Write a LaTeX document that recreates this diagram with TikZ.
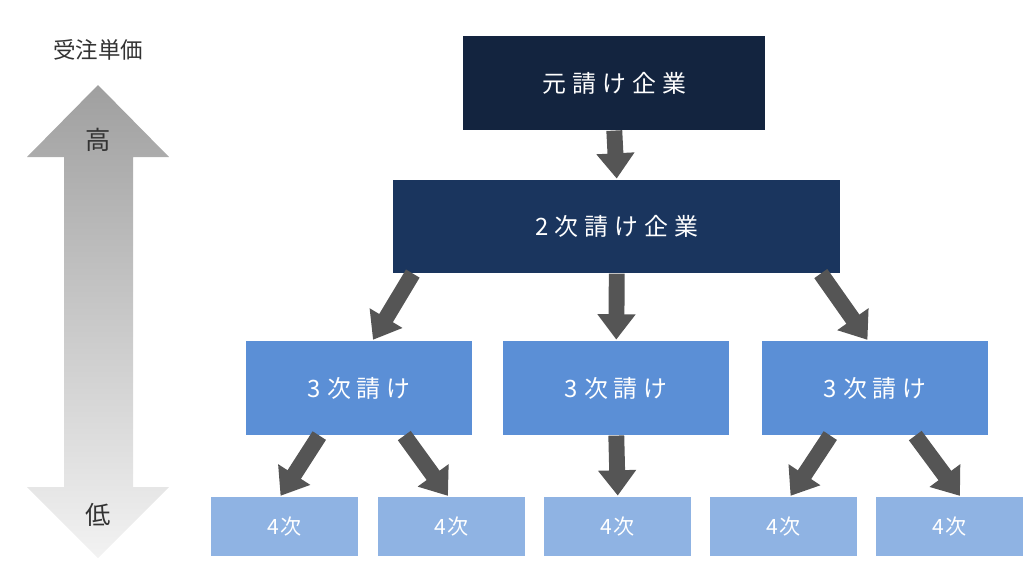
\documentclass[tikz,border=0pt]{standalone}
\usepackage{fontspec}
\setmainfont{Noto Sans CJK JP}
\usetikzlibrary{arrows.meta}
\definecolor{c_top}{HTML}{13243F}
\definecolor{c_two}{HTML}{1A355E}
\definecolor{c_three}{HTML}{5B8FD6}
\definecolor{c_four}{HTML}{8FB3E3}
\definecolor{c_arrow}{HTML}{555555}
\tikzset{
  box/.style={draw=none,text=white,inner sep=0pt,anchor=north west,
    font=\fontsize{17}{20}\selectfont\addfontfeature{LetterSpace=25}},
  small/.style={box,fill=c_four,minimum width=147*0.025cm,minimum height=59*0.025cm,
    font=\fontsize{15}{18}\selectfont\addfontfeature{LetterSpace=5}},
  mid/.style={box,fill=c_three,minimum width=226*0.025cm,minimum height=94*0.025cm},
  fat/.style={draw=c_arrow,line width=11.3pt,-{Triangle[width=26pt,length=18pt]},shorten >=1pt}
}
\begin{document}
\begin{tikzpicture}[x=0.025cm,y=-0.025cm]
    \useasboundingbox (0,0) rectangle (1024,566);
    % left scale
    \shade[top color=gray!75,bottom color=gray!10]
      (98,85) -- (169,157) -- (133,157) -- (133,487) -- (169,487) -- (98,558)
      -- (27,487) -- (64,487) -- (64,157) -- (27,157) -- cycle;
    \node[text=black!80,font=\fontsize{16}{18}\selectfont] (lbl) at (98,50) {受注単価};
    \node[text=black!80,font=\fontsize{18}{20}\selectfont] (hi) at (98,140) {高};
    \node[text=black!80,font=\fontsize{18}{20}\selectfont] (lo) at (98,515) {低};
    % boxes
    \node[box,fill=c_top,minimum width=302*0.025cm,minimum height=94*0.025cm] (a) at (463,36) {元請け企業};
    \node[box,fill=c_two,minimum width=447*0.025cm,minimum height=93*0.025cm] (b) at (393,180) {2次請け企業};
    \node[mid] (c1) at (246,341) {3次請け};
    \node[mid] (c2) at (503,341) {3次請け};
    \node[mid] (c3) at (762,341) {3次請け};
    \node[small] (d1) at (211,497) {4次};
    \node[small] (d2) at (378,497) {4次};
    \node[small] (d3) at (544,497) {4次};
    \node[small] (d4) at (710,497) {4次};
    \node[small] (d5) at (876,497) {4次};
    % arrows
    \draw[fat] (a.south) -- (b.north);
    \draw[fat] ([xshift=-204*0.025cm]b.south) -- ([xshift=13*0.025cm]c1.north);
    \draw[fat] (b.south) -- (c2.north);
    \draw[fat] ([xshift=204*0.025cm]b.south) -- ([xshift=-7*0.025cm]c3.north);
    \draw[fat] ([xshift=-40*0.025cm]c1.south) -- ([xshift=-5*0.025cm]d1.north);
    \draw[fat] ([xshift=45*0.025cm]c1.south) -- ([xshift=-3*0.025cm]d2.north);
    \draw[fat] (c2.south) -- (d3.north);
    \draw[fat] ([xshift=-45*0.025cm]c3.south) -- ([xshift=6*0.025cm]d4.north);
    \draw[fat] ([xshift=40*0.025cm]c3.south) -- ([xshift=11*0.025cm]d5.north);
\end{tikzpicture}
\end{document}
